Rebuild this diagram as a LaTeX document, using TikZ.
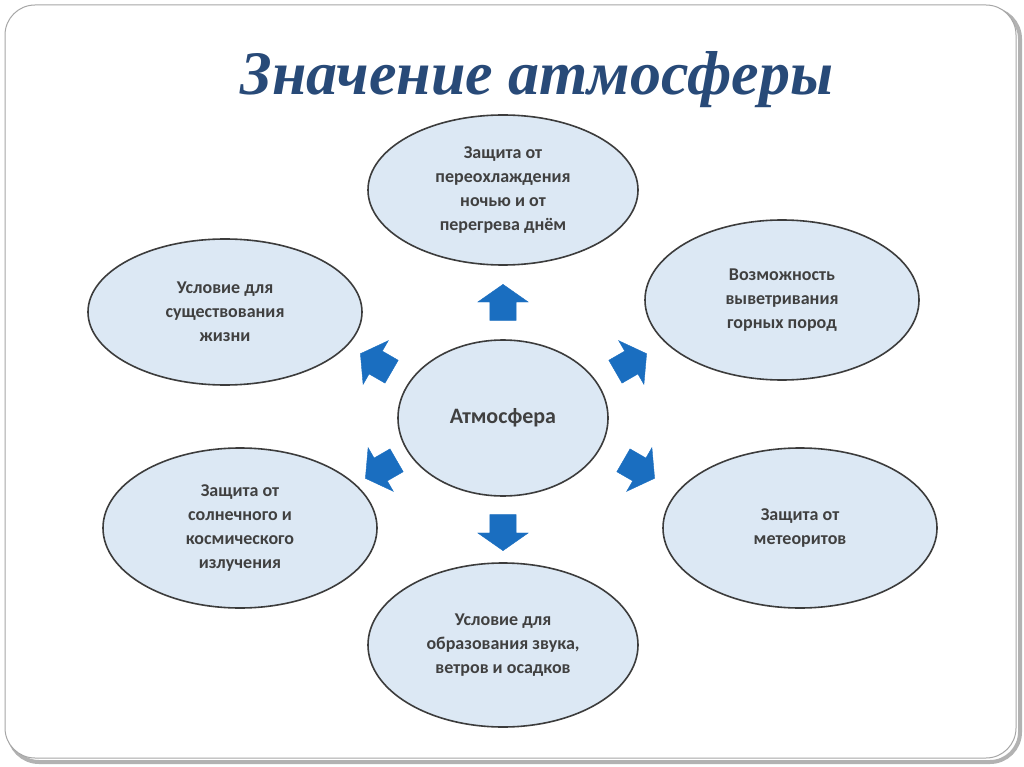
\documentclass[tikz,border=0pt]{standalone}
\usepackage{fontspec}
\setmainfont{Liberation Serif}
\newfontfamily\bodyfont{Carlito}
\usetikzlibrary{shapes.geometric,shapes.arrows}
\definecolor{ellfill}{HTML}{DCE8F4}
\definecolor{ellline}{HTML}{3C3C3C}
\definecolor{arrblue}{HTML}{1A6EC0}
\definecolor{titleblue}{HTML}{284A78}
\definecolor{txtgray}{HTML}{404040}
\tikzset{
  oval/.style={ellipse,draw=ellline,line width=1.6pt,fill=ellfill,inner sep=0pt,
    text=txtgray,font=\bodyfont\bfseries\fontsize{18}{24}\selectfont,align=center},
  blockarrow/.style={single arrow,fill=arrblue,draw=arrblue,minimum height=36pt,
    single arrow head extend=12pt,inner xsep=0pt,inner ysep=13pt,
    single arrow tip angle=110}
}
\begin{document}
\begin{tikzpicture}[x=1pt,y=-1pt]
\useasboundingbox (0,0) rectangle (1024,767);
\fill[white] (0,0) rectangle (1024,767);
\draw[gray!60,line width=4pt,rounded corners=30pt] (9,9) rectangle (1020,762);
\draw[gray!70,line width=1pt,rounded corners=30pt,fill=white] (5,5) rectangle (1016,758);
\node[font=\bfseries\itshape\fontsize{62}{68}\selectfont,text=titleblue] (title) at (537,80) {Значение атмосферы};
\node[oval,minimum width=270pt,minimum height=150pt] (top) at (503,190) {Защита от\\переохлаждения\\ночью и от\\перегрева днём};
\node[oval,minimum width=274pt,minimum height=146pt] (lu) at (225,312) {Условие для\\существования\\жизни};
\node[oval,minimum width=274pt,minimum height=160pt] (ru) at (782,300) {Возможность\\выветривания\\горных пород};
\node[oval,minimum width=210pt,minimum height=156pt,font=\bodyfont\bfseries\fontsize{22}{26}\selectfont] (c) at (503,418) {Атмосфера};
\node[oval,minimum width=274pt,minimum height=160pt] (ll) at (240,528) {Защита от\\солнечного и\\космического\\излучения};
\node[oval,minimum width=274pt,minimum height=160pt] (rl) at (800,528) {Защита от\\метеоритов};
\node[oval,minimum width=270pt,minimum height=164pt] (bot) at (503,645) {Условие для\\образования звука,\\ветров и осадков};
\node[blockarrow,rotate=90] (a1) at (503,307) {};
\node[blockarrow,rotate=-90] (a2) at (503,528) {};
\node[blockarrow,rotate=150] (a3) at (380,365) {};
\node[blockarrow,rotate=30] (a4) at (627,365) {};
\node[blockarrow,rotate=210] (a5) at (385,467) {};
\node[blockarrow,rotate=-30] (a6) at (635,467) {};
\end{tikzpicture}
\end{document}
